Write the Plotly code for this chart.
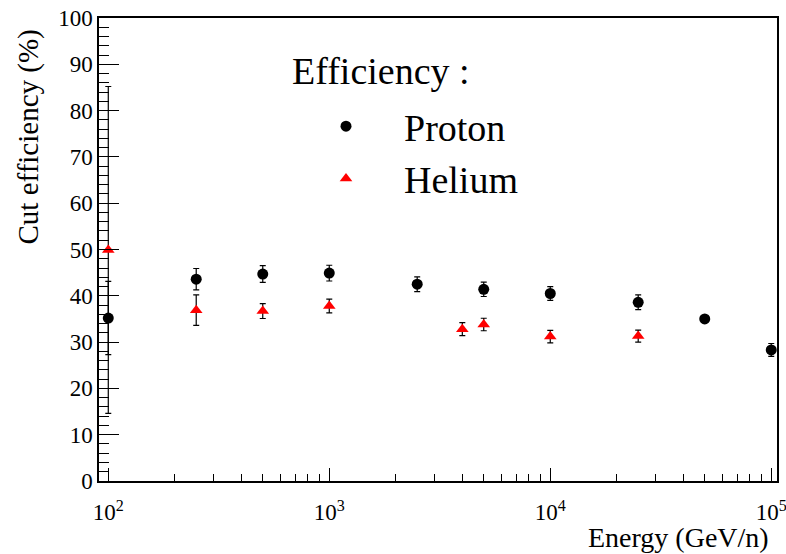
import plotly.graph_objects as go

# Data
proton_energy = [100, 250, 500, 1000, 2500, 5000, 10000, 25000, 50000, 100000]
proton_eff = [35.2, 43.6, 44.7, 44.9, 42.5, 41.4, 40.5, 38.6, 35.0, 28.3]
proton_err = [7.9, 2.3, 1.8, 1.7, 1.6, 1.55, 1.5, 1.6, 0.0, 1.4]

helium_energy = [100, 250, 500, 1000, 4000, 5000, 10000, 25000]
helium_eff = [49.9, 36.9, 36.7, 37.8, 32.8, 33.8, 31.2, 31.3]
helium_err = [35.3, 3.3, 1.6, 1.5, 1.4, 1.35, 1.35, 1.3]

x_major_vals = [100, 1000, 10000, 100000]
x_major_text = ["10<sup>2</sup>", "10<sup>3</sup>", "10<sup>4</sup>", "10<sup>5</sup>"]
x_minor_vals = [m * d for d in (100, 1000, 10000) for m in range(2, 10)]

FONT = "Liberation Serif, Times New Roman, serif"

fig = go.Figure()
fig.add_trace(go.Scatter(
    x=proton_energy, y=proton_eff, mode="markers", name="Proton",
    marker=dict(symbol="circle", size=11, color="black"),
    error_y=dict(type="data", array=proton_err, color="black", thickness=1.2, width=3),
    legendgroup="p",
))
fig.add_trace(go.Scatter(
    x=helium_energy, y=helium_eff, mode="markers", name="Helium",
    marker=dict(symbol="triangle-up", size=11, color="#ff0000"),
    error_y=dict(type="data", array=helium_err, color="black", thickness=1.2, width=3),
    legendgroup="h",
))

fig.update_layout(
    width=786, height=554,
    margin=dict(l=99, r=9, t=18, b=73, autoexpand=False),
    paper_bgcolor="white", plot_bgcolor="white",
    font=dict(family=FONT, color="black", size=22),
    showlegend=True,
    legend=dict(
        x=(288 - 99) / 678, y=(481 - 95) / 463, xanchor="left", yanchor="top",
        bgcolor="rgba(0,0,0,0)",
        font=dict(family=FONT, size=38, color="black"),
        itemwidth=106, tracegroupgap=0, traceorder="grouped",
        itemsizing="trace",
    ),
    xaxis=dict(
        type="log", range=[1.958, 5.026], automargin=False,
        showline=True, linecolor="black", linewidth=1.5, mirror=True,
        showgrid=False, zeroline=False,
        tickmode="array", tickvals=x_major_vals, ticktext=x_major_text,
        ticks="inside", ticklen=13, tickwidth=1, tickcolor="black",
        tickfont=dict(family=FONT, size=23),
        ticklabelstandoff=10, ticklabeloverflow="allow",
        minor=dict(tickvals=x_minor_vals, ticks="inside", ticklen=7, tickwidth=1, tickcolor="black", showgrid=False),
    ),
    yaxis=dict(
        range=[0, 100], automargin=False,
        showline=True, linecolor="black", linewidth=1.5, mirror=True,
        showgrid=False, zeroline=False,
        tickmode="linear", tick0=0, dtick=10,
        ticks="inside", ticklen=20, tickwidth=1, tickcolor="black",
        tickfont=dict(family=FONT, size=23), ticklabeloverflow="allow",
        minor=dict(dtick=2, ticks="inside", ticklen=10, tickwidth=1, tickcolor="black", showgrid=False),
    ),
    annotations=[
        dict(text="Cut efficiency (%)", textangle=-90, xref="paper", yref="paper",
             x=(28 - 99) / 678, y=(481 - 28) / 463, xanchor="center", yanchor="top",
             showarrow=False, font=dict(family=FONT, size=29, color="black")),
        dict(text="Energy (GeV/n)", xref="paper", yref="paper",
             x=(771 - 99) / 678, y=(481 - 537) / 463, xanchor="right", yanchor="middle",
             showarrow=False, font=dict(family=FONT, size=28, color="black")),
        dict(text="Efficiency :", xref="paper", yref="paper",
             x=(290 - 99) / 678, y=(481 - 71) / 463, xanchor="left", yanchor="middle",
             showarrow=False, font=dict(family=FONT, size=38, color="black")),
    ],
)

fig.write_html("out.html", post_script="document.body.style.margin='0';",
               config={"displayModeBar": False})
